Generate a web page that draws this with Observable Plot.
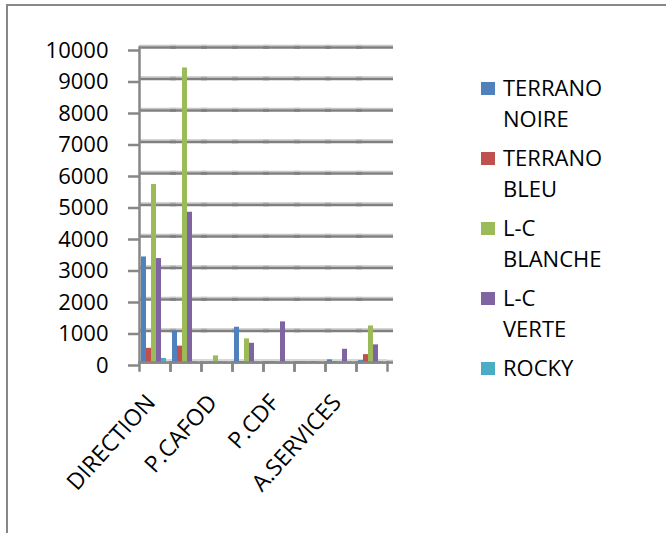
<!DOCTYPE html>
<html><head><meta charset="utf-8">
<script src="https://cdn.jsdelivr.net/npm/d3@7"></script>
<script src="https://cdn.jsdelivr.net/npm/@observablehq/plot@0.6"></script>
<style>
body{margin:0;background:#fff;font-family:"Open Sans",sans-serif;}
#wrap{position:relative;width:666px;height:533px;overflow:hidden;background:#fff;}
#border{position:absolute;left:6px;top:4px;width:700px;height:600px;border-top:2px solid #878787;border-left:2px solid #878787;}
#chart{position:absolute;left:0;top:0;}
#legend{position:absolute;left:481px;top:72px;}
.item{display:flex;align-items:flex-start;margin-bottom:8px;}
.sw{width:14px;height:13px;margin-top:10px;margin-right:8px;flex:none;}
.lab{font-size:22px;line-height:31px;color:#000;white-space:nowrap;}
</style></head><body>
<div id="wrap"><div id="border"></div><div id="chart"></div><div id="legend"></div></div>
<script>
const categories = [0, 1, 2, 3, 4, 5, 6, 7];
const tickLabels = ["DIRECTION", "", "P.CAFOD", "", "P.CDF", "", "A.SERVICES", ""];
const series = ["TERRANO NOIRE", "TERRANO BLEU", "L-C BLANCHE", "L-C VERTE", "ROCKY"];
const colors = ["#4F81BD", "#C0504D", "#9BBB59", "#8064A2", "#4BACC6"];
const terranoNoire = [3350, 1000, 20, 1120, 30, 30, 85, 60];
const terranoBleu  = [450, 520, 20, 30, 30, 30, 30, 250];
const lcBlanche    = [5650, 9350, 210, 750, 30, 30, 30, 1160];
const lcVerte      = [3300, 4770, 20, 610, 1290, 30, 420, 560];
const rocky        = [130, 30, 20, 20, 20, 20, 20, 30];
const yTicks = [0, 1000, 2000, 3000, 4000, 5000, 6000, 7000, 8000, 9000, 10000];

const seriesValues = [terranoNoire, terranoBleu, lcBlanche, lcVerte, rocky];
const data = [];
categories.forEach((c, i) => series.forEach((s, j) => data.push({cat: c, series: s, value: seriesValues[j][i]})));

const W = 460, H = 533, mT = 47, mB = 171;
const axisColor = "#878787";
const chart = Plot.plot({
  width: W, height: H,
  marginLeft: 136, marginRight: 70, marginTop: mT, marginBottom: mB,
  style: {fontFamily: '"Open Sans", sans-serif', fontSize: "22px", color: "#000", background: "transparent", overflow: "visible"},
  fx: {domain: categories, padding: 0, label: null, axis: null},
  x: {domain: series, paddingInner: 0, paddingOuter: 0.6, align: 0.3, axis: null},
  y: {domain: [0, 10000], axis: null},
  color: {domain: series, range: colors},
  marks: [
    Plot.ruleY(yTicks, {stroke: "#c6c6c6", strokeWidth: 1.5, dy: -2, insetRight: -6}),
    Plot.ruleY(yTicks, {stroke: "#7f7f7f", strokeWidth: 2.5, insetRight: -6}),
    Plot.ruleY([0], {stroke: "#d8d8d8", strokeWidth: 3, dy: -2}),
    Plot.barY(data, {fx: "cat", x: "series", y: "value", fill: "series"}),
    Plot.frame({anchor: "bottom", stroke: axisColor, strokeWidth: 2.5}),
    Plot.frame({anchor: "left", insetTop: H - mT - mB, insetBottom: -8, stroke: axisColor, strokeWidth: 2.5}),
    Plot.frame({anchor: "right", insetTop: H - mT - mB, insetBottom: -8, stroke: axisColor, strokeWidth: 2.5}),
    Plot.frame({anchor: "left", facetAnchor: "left", stroke: axisColor, strokeWidth: 2.5}),
    Plot.axisY(yTicks, {tickSize: 11, tickPadding: 20, stroke: axisColor, strokeWidth: 2.5, fill: "#000", dy: 3, label: null, tickFormat: d => String(d), fontSize: 22}),
    Plot.axisFx({anchor: "bottom", tickSize: 0, tickRotate: -48, tickPadding: 36, dx: -4, label: null, fill: "#000", tickFormat: i => tickLabels[i], fontSize: 23})
  ]
});
document.getElementById("chart").appendChild(chart);

const legend = document.getElementById("legend");
series.forEach((s, j) => {
  const item = document.createElement("div");
  item.className = "item";
  const sw = document.createElement("div");
  sw.className = "sw";
  sw.style.background = colors[j];
  const lab = document.createElement("div");
  lab.className = "lab";
  lab.innerHTML = s.split(" ").join("<br>");
  item.appendChild(sw); item.appendChild(lab);
  legend.appendChild(item);
});
</script>
</body></html>
